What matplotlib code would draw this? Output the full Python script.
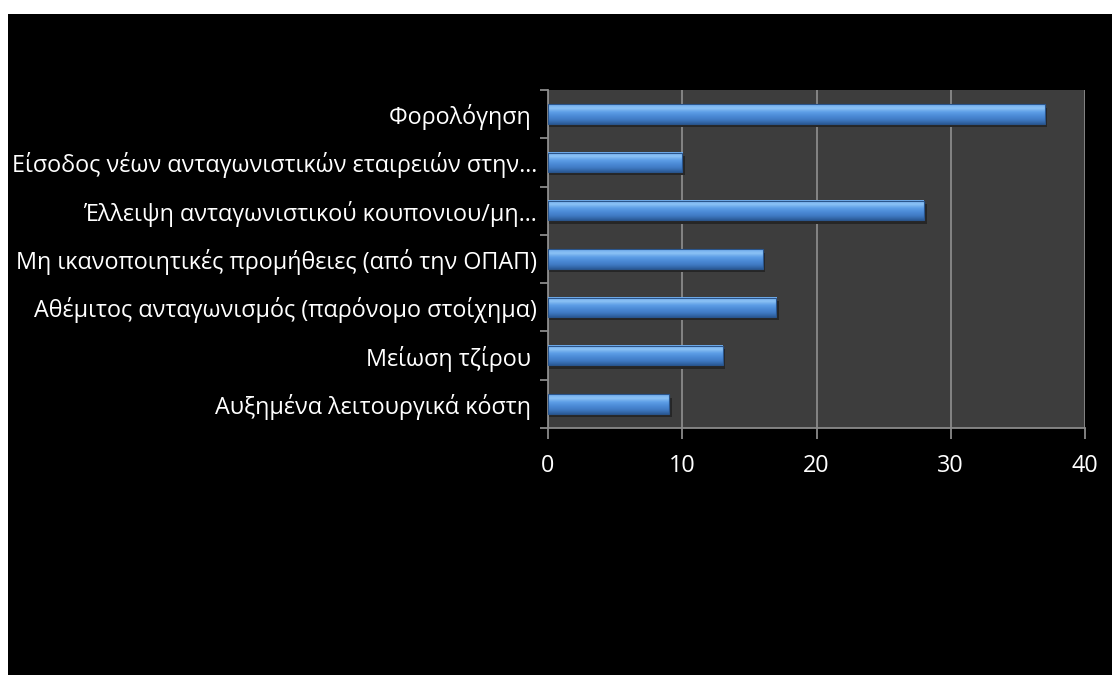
import numpy as np
import matplotlib
matplotlib.use("Agg")
import matplotlib.pyplot as plt
from matplotlib.patches import Rectangle
from matplotlib.colors import LinearSegmentedColormap

plt.rcParams['font.family'] = ['Open Sans', 'DejaVu Sans']

# data, top to bottom as in the chart
categories = [
    "Φορολόγηση ",
    "Είσοδος νέων ανταγωνιστικών εταιρειών στην…",
    "Έλλειψη ανταγωνιστικού κουπονιου/μη…",
    "Μη ικανοποιητικές προμήθειες (από την ΟΠΑΠ)",
    "Αθέμιτος ανταγωνισμός (παρόνομο στοίχημα)",
    "Μείωση τζίρου ",
    "Αυξημένα λειτουργικά κόστη ",
]
values = [37, 10, 28, 16, 17, 13, 9]
xticks = [0, 10, 20, 30, 40]

fig = plt.figure(figsize=(11.12, 6.75), dpi=100, facecolor="white")
# black slide background (white strip at top and left)
fig.patches.append(Rectangle((8 / 1112, 0), 1, 1 - 14 / 675, transform=fig.transFigure,
                             facecolor="black", edgecolor="none", zorder=-10))

ax = fig.add_axes([548 / 1112, 1 - 428 / 675, 537 / 1112, 338 / 675])
ax.set_zorder(5)
ax.set_facecolor("#3d3d3d")

n = len(categories)
ypos = np.arange(n)[::-1]  # first category on top
h = 0.40

# bevel-ish vertical gradient for bars
bar_cmap = LinearSegmentedColormap.from_list(
    "bevel", ["#2c5c98", "#3f79c2", "#4b8ad6", "#5d9ee6", "#8cc2f5", "#6eaaec"])
grad = np.linspace(0, 1, 64).reshape(-1, 1)

for y, v in zip(ypos, values):
    # soft shadow under the bar
    ax.add_patch(Rectangle((0.05, y - h / 2 - 0.07), v + 0.15, h, facecolor="#262626",
                           edgecolor="none", zorder=2))
    ax.imshow(grad, cmap=bar_cmap, aspect="auto", origin="lower",
              extent=(0, v, y - h / 2, y + h / 2), zorder=3, interpolation="bilinear")
    ax.add_patch(Rectangle((0, y - h / 2), v, h, facecolor="none",
                           edgecolor="#2a558c", linewidth=0.8, zorder=4))

ax.set_xlim(0, 40)
ax.set_ylim(-0.5, n - 0.5)
ax.set_xticks(xticks)
ax.set_xticklabels([str(t) for t in xticks])
ax.xaxis.grid(True, color="#8a8a8a", linewidth=1.3, zorder=1)
ax.set_axisbelow(True)

ax.set_yticks(ypos)
ax.set_yticklabels(categories)
ax.set_yticks(np.arange(-0.5, n, 1.0), minor=True)

ax.tick_params(axis="y", which="major", length=0, pad=8, labelsize=16.8, labelcolor="white")
ax.tick_params(axis="y", which="minor", length=6, width=1.3, color="#8a8a8a")
ax.tick_params(axis="x", which="major", length=8, width=1.3, color="#8a8a8a",
               pad=11, labelsize=16.8, labelcolor="white")

for s in ["top", "right"]:
    ax.spines[s].set_visible(False)
for s in ["left", "bottom"]:
    ax.spines[s].set_color("#8a8a8a")
    ax.spines[s].set_linewidth(1.3)

fig.savefig("out.png", dpi=100, facecolor=fig.get_facecolor())
